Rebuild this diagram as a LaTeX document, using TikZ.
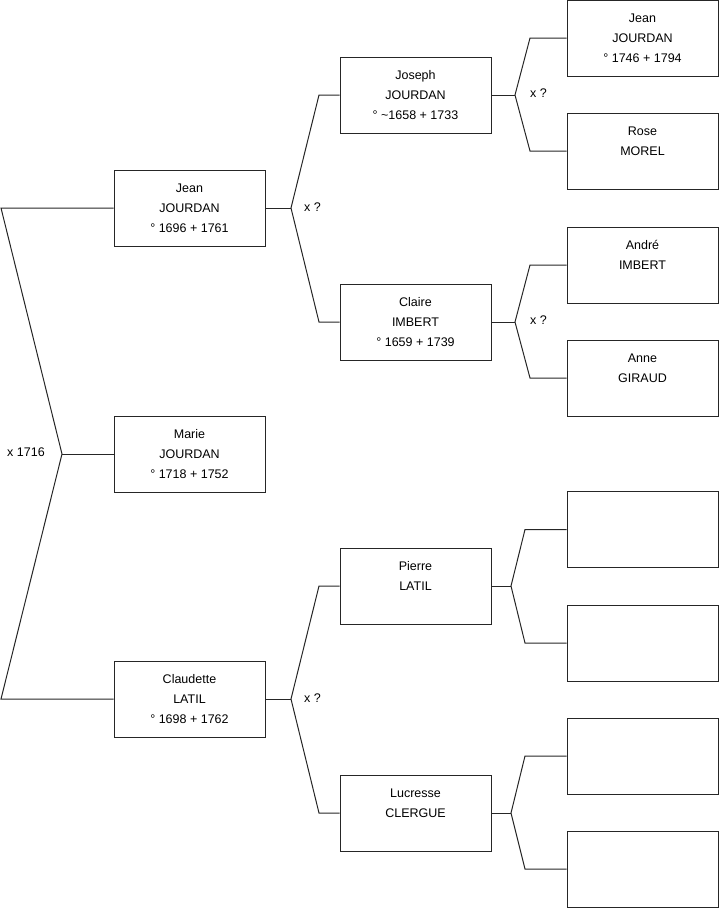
\documentclass[tikz,border=0pt]{standalone}
\usepackage{fontspec}
\setmainfont{Liberation Sans}
\begin{document}
\begin{tikzpicture}[x=1pt,y=-1pt,
  person/.style={draw=black!85,line width=1pt,minimum width=151pt,minimum height=76pt,
    inner sep=0pt,align=center,font=\fontsize{12.5}{20}\selectfont},
  link/.style={draw=black!85,line width=1pt},
  lbl/.style={font=\fontsize{12.5}{15}\selectfont,inner sep=0pt,anchor=west}]
\useasboundingbox (0,0) rectangle (719,908);
% generation 0
\node[person] (jean0) at (189.5,208) {Jean\\JOURDAN\\° 1696 + 1761};
\node[person] (marie) at (189.5,454) {Marie\\JOURDAN\\° 1718 + 1752};
\node[person] (claud) at (189.5,699) {Claudette\\LATIL\\° 1698 + 1762};
% generation 1
\node[person] (joseph) at (415.5,95) {Joseph\\JOURDAN\\° \textasciitilde1658 + 1733};
\node[person] (claire) at (415.5,322) {Claire\\IMBERT\\° 1659 + 1739};
\node[person] (pierre) at (415.5,586) {Pierre\\LATIL\\~};
\node[person] (lucr) at (415.5,813) {Lucresse\\CLERGUE\\~};
% generation 2
\node[person] (jean2) at (642.5,38) {Jean\\JOURDAN\\° 1746 + 1794};
\node[person] (rose) at (642.5,151) {Rose\\MOREL\\~};
\node[person] (andre) at (642.5,265) {André\\IMBERT\\~};
\node[person] (anne) at (642.5,378) {Anne\\GIRAUD\\~};
\node[person] (e1) at (642.5,529.5) {};
\node[person] (e2) at (642.5,643) {};
\node[person] (e3) at (642.5,756) {};
\node[person] (e4) at (642.5,869) {};
% joints
\coordinate (j0) at (62,454);
\coordinate (c0a) at (1,208);
\coordinate (c0b) at (1,699);
\coordinate (j1a) at (291,208);
\coordinate (c1a) at (319,95);
\coordinate (c1b) at (319,322);
\coordinate (j1b) at (291,699);
\coordinate (c1c) at (319,586);
\coordinate (c1d) at (319,813);
\coordinate (j2a) at (515,95);
\coordinate (c2a) at (530,38);
\coordinate (c2b) at (530,151);
\coordinate (j2b) at (515,322);
\coordinate (c2c) at (530,265);
\coordinate (c2d) at (530,378);
\coordinate (j2c) at (511,586);
\coordinate (c2e) at (525,529.5);
\coordinate (c2f) at (525,643);
\coordinate (j2d) at (511,813);
\coordinate (c2g) at (525,756);
\coordinate (c2h) at (525,869);
% connectors
\draw[link] (jean0.west) -- (c0a) -- (j0) -- (c0b) -- (claud.west);
\draw[link] (j0) -- (marie.west);
\draw[link] (jean0.east) -- (j1a);
\draw[link] (joseph.west) -- (c1a) -- (j1a) -- (c1b) -- (claire.west);
\draw[link] (claud.east) -- (j1b);
\draw[link] (pierre.west) -- (c1c) -- (j1b) -- (c1d) -- (lucr.west);
\draw[link] (joseph.east) -- (j2a);
\draw[link] (jean2.west) -- (c2a) -- (j2a) -- (c2b) -- (rose.west);
\draw[link] (claire.east) -- (j2b);
\draw[link] (andre.west) -- (c2c) -- (j2b) -- (c2d) -- (anne.west);
\draw[link] (pierre.east) -- (j2c);
\draw[link] (e1.west) -- (c2e) -- (j2c) -- (c2f) -- (e2.west);
\draw[link] (lucr.east) -- (j2d);
\draw[link] (e3.west) -- (c2g) -- (j2d) -- (c2h) -- (e4.west);
% labels
\node[lbl] (m0) at (7,452) {x 1716};
\node[lbl] (m1) at (304,207) {x ?};
\node[lbl] (m2) at (304,698) {x ?};
\node[lbl] (m3) at (530,93) {x ?};
\node[lbl] (m4) at (530,320) {x ?};
\end{tikzpicture}
\end{document}
